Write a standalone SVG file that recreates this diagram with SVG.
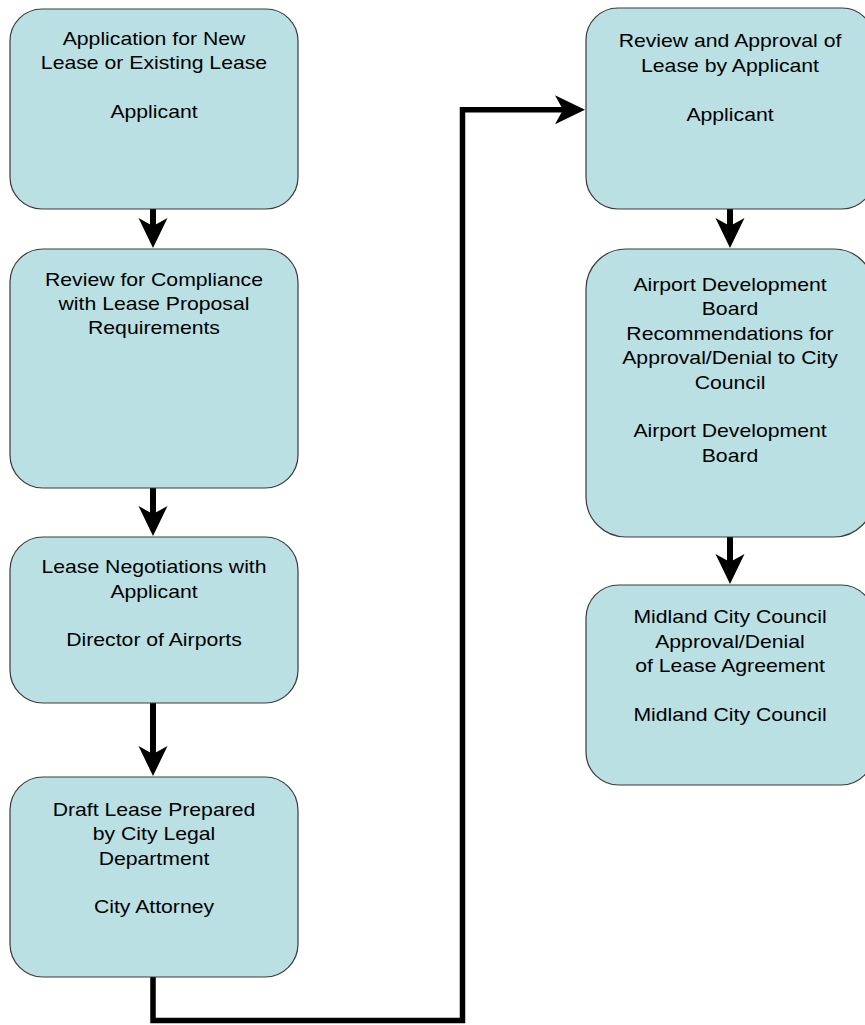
<svg xmlns="http://www.w3.org/2000/svg" width="865" height="1025" viewBox="0 0 865 1025">
<style>
.box{fill:#BBE0E3;stroke:#3a3a3a;stroke-width:1.2}
.t{font-family:"Liberation Sans",Arial,sans-serif;font-size:18.6px;fill:#000;text-anchor:middle}
.c{fill:none;stroke:#000;stroke-width:6}
.e{fill:none;stroke:#000;stroke-width:5.5}
</style>
<defs>
<marker id="ah" markerUnits="userSpaceOnUse" viewBox="-15 -20 40 40" markerWidth="40" markerHeight="40" refX="0" refY="0" orient="auto">
<path d="M20,0 L-10,-14.5 L-2,0 L-10,14.5 Z" fill="#000"/>
</marker>
</defs>
<g id="connectors">
<path class="c" d="M153,209 V228" marker-end="url(#ah)"/>
<path class="c" d="M153,488 V516" marker-end="url(#ah)"/>
<path class="c" d="M153,703 V756" marker-end="url(#ah)"/>
<path class="e" d="M153,977 V1020.5 H462.5 V109.7 H565" marker-end="url(#ah)"/>
<path class="c" d="M730,209 V228" marker-end="url(#ah)"/>
<path class="c" d="M730,537 V564" marker-end="url(#ah)"/>
</g>
<g id="n1">
<rect class="box" x="10" y="9" width="288" height="200" rx="32"/>
<text class="t" transform="translate(154 0) scale(1.14 1)"><tspan x="0" y="45">Application for New</tspan><tspan x="0" y="69.3">Lease or Existing Lease</tspan><tspan x="0" y="118">Applicant</tspan></text>
</g>
<g id="n2">
<rect class="box" x="10" y="249" width="288" height="239" rx="33"/>
<text class="t" transform="translate(154 0) scale(1.14 1)"><tspan x="0" y="285.7">Review for Compliance</tspan><tspan x="0" y="309.8">with Lease Proposal</tspan><tspan x="0" y="334">Requirements</tspan></text>
</g>
<g id="n3">
<rect class="box" x="10" y="537" width="288" height="166" rx="33"/>
<text class="t" transform="translate(154 0) scale(1.14 1)"><tspan x="0" y="573.5">Lease Negotiations with</tspan><tspan x="0" y="597.8">Applicant</tspan><tspan x="0" y="646.5">Director of Airports</tspan></text>
</g>
<g id="n4">
<rect class="box" x="10" y="777" width="288" height="200" rx="33"/>
<text class="t" transform="translate(154 0) scale(1.14 1)"><tspan x="0" y="816">Draft Lease Prepared</tspan><tspan x="0" y="840.3">by City Legal</tspan><tspan x="0" y="864.6">Department</tspan><tspan x="0" y="913.3">City Attorney</tspan></text>
</g>
<g id="n5">
<rect class="box" x="586" y="8" width="288" height="201" rx="32"/>
<text class="t" transform="translate(730 0) scale(1.14 1)"><tspan x="0" y="47.5">Review and Approval of</tspan><tspan x="0" y="72">Lease by Applicant</tspan><tspan x="0" y="121">Applicant</tspan></text>
</g>
<g id="n6">
<rect class="box" x="586" y="249" width="288" height="288" rx="40"/>
<text class="t" transform="translate(730 0) scale(1.14 1)"><tspan x="0" y="291">Airport Development</tspan><tspan x="0" y="315.4">Board</tspan><tspan x="0" y="339.8">Recommendations for</tspan><tspan x="0" y="364.2">Approval/Denial to City</tspan><tspan x="0" y="388.6">Council</tspan><tspan x="0" y="437.4">Airport Development</tspan><tspan x="0" y="461.8">Board</tspan></text>
</g>
<g id="n7">
<rect class="box" x="586" y="585" width="288" height="200" rx="33"/>
<text class="t" transform="translate(730 0) scale(1.14 1)"><tspan x="0" y="623.5">Midland City Council</tspan><tspan x="0" y="647.8">Approval/Denial</tspan><tspan x="0" y="672.1">of Lease Agreement</tspan><tspan x="0" y="720.7">Midland City Council</tspan></text>
</g>
</svg>
